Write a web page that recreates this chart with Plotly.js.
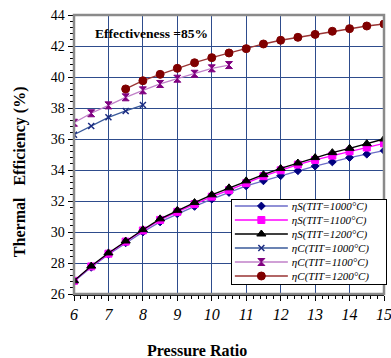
<!DOCTYPE html>
<html>
<head>
<meta charset="utf-8">
<script src="https://cdn.plot.ly/plotly-3.0.1.min.js"></script>
<style>html,body{margin:0;padding:0;background:#fff;}#chart{width:391px;height:358px;}</style>
</head>
<body>
<div id="chart"></div>
<script>
var prS = [6,6.5,7,7.5,8,8.5,9,9.5,10,10.5,11,11.5,12,12.5,13,13.5,14,14.5,15];
var etaS1000 = [26.8,27.72,28.55,29.3,30.0,30.65,31.17,31.65,32.12,32.55,32.97,33.3,33.63,33.95,34.25,34.52,34.8,35.02,35.25];
var etaS1100 = [26.85,27.78,28.6,29.38,30.1,30.78,31.3,31.8,32.28,32.7,33.15,33.6,33.98,34.35,34.65,34.93,35.2,35.45,35.72];
var etaS1200 = [26.85,27.8,28.65,29.42,30.15,30.85,31.4,31.9,32.4,32.85,33.3,33.7,34.1,34.45,34.8,35.12,35.4,35.7,36.0];
var prC1000 = [6,6.5,7,7.5,8];
var etaC1000 = [36.28,36.84,37.4,37.81,38.19];
var prC1100 = [6,6.5,7,7.5,8,8.5,9,9.5,10,10.5];
var etaC1100 = [37.05,37.66,38.17,38.69,39.14,39.55,39.89,40.21,40.56,40.77];
var prC1200 = [7.5,8,8.5,9,9.5,10,10.5,11,11.5,12,12.5,13,13.5,14,14.5,15];
var etaC1200 = [39.23,39.76,40.17,40.56,40.92,41.25,41.55,41.83,42.13,42.37,42.56,42.75,42.95,43.12,43.29,43.42];
var names = ['ηS(TIT=1000°C)','ηS(TIT=1100°C)','ηS(TIT=1200°C)','ηC(TIT=1000°C)','ηC(TIT=1100°C)','ηC(TIT=1200°C)'];
var xTicks = [6,7,8,9,10,11,12,13,14,15];
var yTicks = [26,28,30,32,34,36,38,40,42,44];
var xTitle = 'Pressure Ratio';
var yTitle = 'Thermal&nbsp;&nbsp;&nbsp;Efficiency (%)';
var noteText = 'Effectiveness =85%';

function tr(x,y,name,lc,mc,sym,ms){
  return {x:x,y:y,name:name,type:'scatter',mode:'lines+markers',
    line:{color:lc,width:1.3},marker:{color:mc,symbol:sym,size:ms,line:{color:mc,width:1}}};
}
var data = [
  tr(prS,etaS1000,names[0],'#6b6bc8','#000080','diamond',6),
  tr(prS,etaS1100,names[1],'#ff00ff','#ff00ff','square',7),
  tr(prS,etaS1200,names[2],'#000000','#000000','triangle-up',8),
  tr(prC1000,etaC1000,names[3],'#3a5a9a','#1a2a80','x-thin',6),
  tr(prC1100,etaC1100,names[4],'#c080c8','#800080','hourglass',7),
  tr(prC1200,etaC1200,names[5],'#993333','#800000','circle',8)
];
data[3].marker.line = {color:'#1a2a80',width:1.5};

var layout = {
  width:391,height:358,
  margin:{l:74,r:7,t:15,b:64},
  paper_bgcolor:'#fff',plot_bgcolor:'#fff',
  showlegend:true,
  legend:{x:0.506,y:0.3405,xanchor:'left',yanchor:'top',bgcolor:'#fff',bordercolor:'#000',borderwidth:1,
    font:{family:'Liberation Serif',size:11,color:'#000',style:'italic'},tracegroupgap:0,itemwidth:30},
  xaxis:{range:[6,15],tickvals:xTicks,ticktext:xTicks.map(String),showgrid:true,gridcolor:'#2e4c8c',gridwidth:1,
    showline:true,linecolor:'#000',linewidth:1.5,ticks:'outside',ticklen:5,tickcolor:'#000',zeroline:false,
    ticklabeloverflow:'allow',
    minor:{dtick:0.2,ticks:'outside',ticklen:3,tickcolor:'#000',showgrid:false},
    tickfont:{family:'Liberation Serif',size:16,color:'#000',style:'italic'}},
  yaxis:{range:[26,44],tickvals:yTicks,ticktext:yTicks.map(String),showgrid:true,gridcolor:'#2e4c8c',gridwidth:1,
    showline:true,linecolor:'#000',linewidth:1.5,ticks:'outside',ticklen:5,tickcolor:'#000',zeroline:false,
    minor:{dtick:0.4,ticks:'outside',ticklen:3,tickcolor:'#000',showgrid:false},
    tickfont:{family:'Liberation Serif',size:14,color:'#000'}},
  shapes:[{type:'rect',xref:'paper',yref:'paper',x0:0,x1:1,y0:0,y1:1,line:{color:'#8a8a8a',width:2.5},layer:'above'}],
  annotations:[
    {xref:'x',yref:'y',x:6.54,y:42.78,xanchor:'left',yanchor:'middle',showarrow:false,
      text:'<b>'+noteText+'</b>',font:{family:'Liberation Serif',size:13.5,color:'#000'}},
    {xref:'paper',yref:'paper',x:-0.174,y:0.437,xanchor:'center',yanchor:'middle',showarrow:false,textangle:-90,
      text:'<b>'+yTitle+'</b>',font:{family:'Liberation Serif',size:16,color:'#000'}},
    {xref:'paper',yref:'paper',x:0.397,y:-0.204,xanchor:'center',yanchor:'middle',showarrow:false,
      text:'<b>'+xTitle+'</b>',font:{family:'Liberation Serif',size:16,color:'#000'}}
  ]
};
var gd = document.getElementById('chart');
Plotly.newPlot(gd,data,layout,{displayModeBar:false,staticPlot:true}).then(function(){
  var leg = gd.querySelector('.legend');
  if(!leg) return;
  var sb = leg.querySelector('.scrollbox');
  if(sb) sb.removeAttribute('clip-path');
  var items = leg.querySelectorAll('.traces');
  var step = 14, y0 = 7, lineLen = 53, textX = 60, maxW = 0;
  items.forEach(function(it,i){
    var t = it.getAttribute('transform') || '';
    var m = /translate\(([-\d.]+)[ ,]+([-\d.]+)\)/.exec(t);
    var x = m ? parseFloat(m[1]) : 0;
    it.setAttribute('transform','translate('+x+','+(y0+i*step)+')');
    it.querySelectorAll('.legendlines path').forEach(function(p){ p.setAttribute('d','M3,0h'+lineLen); });
    it.querySelectorAll('.legendpoints path').forEach(function(p){ p.setAttribute('transform','translate('+(3+lineLen/2)+',0)'); });
    var txt = it.querySelector('.legendtext');
    if(txt){ txt.setAttribute('x',textX); var w = txt.getComputedTextLength(); if(w>maxW) maxW=w; }
  });
  var bg = leg.querySelector('.bg');
  if(bg){ bg.setAttribute('height', items.length*step + 1); bg.setAttribute('width', textX + maxW + 18); }
});
</script>
</body>
</html>
